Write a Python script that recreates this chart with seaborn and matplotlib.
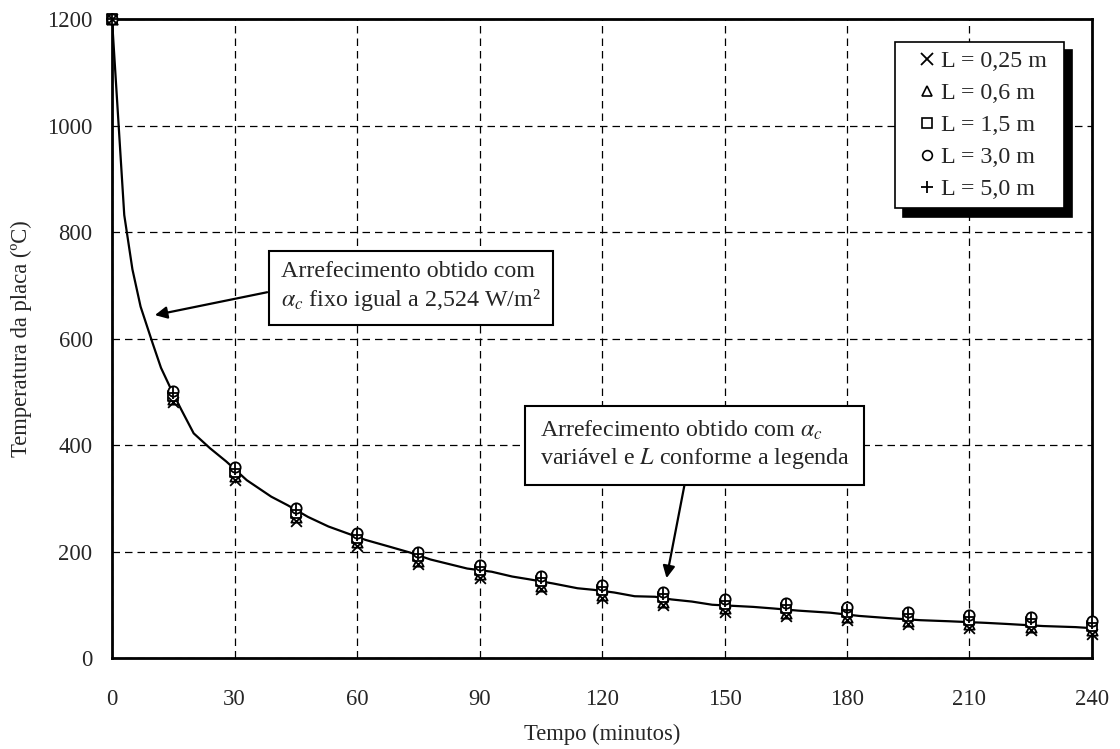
import numpy as np
import pandas as pd
import matplotlib
matplotlib.use("Agg")
import matplotlib.pyplot as plt
import seaborn as sns
from matplotlib.lines import Line2D

# ---- data ----
line_t = [0, 3, 5, 7, 10, 12, 15, 17, 20, 24, 28, 33, 39, 43, 48, 53, 62, 68, 73, 78,
          87, 93, 98, 102, 108, 114, 118, 123, 128, 133, 137, 142, 147, 152, 157, 162,
          168, 176, 183, 190, 198, 205, 214, 219, 228, 236, 240]
line_T = [1200, 832, 730, 660, 590, 545, 496, 466, 422, 394, 369, 334, 303, 287, 265, 247,
          222, 209, 198, 185, 168, 162, 153, 148, 140, 131, 128, 123, 116, 115, 110, 106,
          100, 98, 96, 93, 89, 85, 79, 75, 71, 69, 66, 64, 60, 58, 56]

t_pts = [0, 15, 30, 45, 60, 75, 90, 105, 120, 135, 150, 165, 180, 195, 210, 225, 240]
T_L025 = [1200, 480, 335, 258, 211, 176, 151, 130, 113, 100, 87, 79, 71, 63, 57, 53, 46]
T_L06 = [1200, 486, 341, 264, 217, 182, 157, 136, 119, 106, 93, 85, 77, 69, 63, 59, 52]
T_L15 = [1200, 493, 350, 273, 226, 191, 166, 145, 128, 115, 102, 94, 86, 78, 72, 68, 61]
T_L30 = [1200, 502, 359, 282, 235, 200, 175, 154, 137, 124, 111, 103, 95, 87, 81, 77, 70]
T_L50 = [1200, 498, 355, 278, 231, 196, 171, 150, 133, 120, 107, 99, 91, 83, 77, 73, 66]

series_names = ["L = 0,25 m", "L = 0,6 m", "L = 1,5 m", "L = 3,0 m", "L = 5,0 m"]
series_vals = [T_L025, T_L06, T_L15, T_L30, T_L50]
x_ticks = [0, 30, 60, 90, 120, 150, 180, 210, 240]
y_ticks = [0, 200, 400, 600, 800, 1000, 1200]

# ---- style ----
sns.set_theme(style="white")
plt.rcParams["font.family"] = ["Liberation Serif", "DejaVu Serif"]
plt.rcParams["mathtext.fontset"] = "stix"
FS = 16.3
FS_TXT = 17.3

fig = plt.figure(figsize=(11.2, 7.49), dpi=100)
ax = fig.add_axes([0.1, 0.1215, 0.875, 0.853])

line_df = pd.DataFrame({"t": line_t, "T": line_T})
sns.lineplot(data=line_df, x="t", y="T", ax=ax, color="black", lw=1.6,
             sort=False, zorder=3, legend=False)

pts_df = pd.DataFrame({
    "t": np.tile(t_pts, len(series_names)),
    "T": np.concatenate(series_vals),
    "serie": np.repeat(series_names, len(t_pts)),
})
markers = {"L = 0,25 m": "x", "L = 0,6 m": "^", "L = 1,5 m": "s",
           "L = 3,0 m": "o", "L = 5,0 m": "+"}
msize = {"L = 0,25 m": 60, "L = 0,6 m": 55, "L = 1,5 m": 45,
         "L = 3,0 m": 55, "L = 5,0 m": 75}
for name in series_names:
    sub = pts_df[pts_df["serie"] == name]
    filled = markers[name] in ("^", "s", "o")
    if filled:
        sns.scatterplot(data=sub, x="t", y="T", ax=ax, marker=markers[name],
                        s=msize[name], facecolor="white", edgecolor="black",
                        linewidth=1.3, zorder=4, legend=False, clip_on=False)
    else:
        sns.scatterplot(data=sub, x="t", y="T", ax=ax, marker=markers[name],
                        s=msize[name], color="black", linewidth=1.3, zorder=5,
                        legend=False, clip_on=False)

ax.set_xlim(0, 240)
ax.set_ylim(0, 1200)
ax.set_xticks(x_ticks)
ax.set_yticks(y_ticks)
ax.set_xticklabels([str(v) for v in x_ticks], fontsize=FS)
ax.set_yticklabels([str(v) for v in y_ticks], fontsize=FS)
ax.tick_params(axis="x", direction="out", length=7, width=1.2, color="black", pad=15)
ax.tick_params(axis="y", direction="out", length=7, width=1.2, color="black", pad=7)
ax.grid(True, color="black", linestyle=(0, (6, 4)), linewidth=0.9)
ax.set_axisbelow(True)
for sp in ax.spines.values():
    sp.set_visible(True)
    sp.set_color("black")
    sp.set_linewidth(2)

ax.set_xlabel("Tempo (minutos)", fontsize=FS, labelpad=10)
ax.set_ylabel("Temperatura da placa (ºC)", fontsize=FS, labelpad=11)

# legend
handles = []
for name in series_names:
    m = markers[name]
    if m in ("^", "s", "o"):
        handles.append(Line2D([], [], linestyle="none", marker=m, markersize=7,
                              markerfacecolor="white", markeredgecolor="black",
                              markeredgewidth=1.2))
    else:
        handles.append(Line2D([], [], linestyle="none", marker=m, markersize=8,
                              color="black", markeredgewidth=1.3))
leg = ax.legend(handles, series_names, loc="upper left",
                bbox_to_anchor=(0.799, 0.5, 0.1724, 0.464), mode="expand",
                fontsize=FS_TXT, frameon=True, fancybox=False, edgecolor="black",
                handlelength=1.95, handletextpad=-0.4, labelspacing=0.42,
                borderpad=0.35, borderaxespad=0.0,
                shadow={"ox": 6, "oy": -6, "facecolor": "black",
                        "edgecolor": "black", "alpha": 1})
leg.get_frame().set_linewidth(1.2)
leg.set_zorder(10)

# annotations
box1 = dict(boxstyle="square,pad=0.5", facecolor="white", edgecolor="black", linewidth=1.5)
box2 = dict(boxstyle="square,pad=0.6", facecolor="white", edgecolor="black", linewidth=1.5)
ax.text(41.5, 697, "Arrefecimento obtido com\n$\\alpha_c$ fixo igual a 2,524 W/m²",
        fontsize=FS_TXT, ha="left", va="center", bbox=box1, zorder=8, linespacing=1.28)
ax.annotate("", xy=(10.5, 644), xytext=(38, 687),
            arrowprops=dict(arrowstyle="-|>", color="black", lw=1.6, mutation_scale=18,
                            shrinkA=0, shrinkB=0), zorder=7)
ax.text(104.7, 400, "Arrefecimento obtido com $\\alpha_c$\nvariável e $L$ conforme a legenda",
        fontsize=FS_TXT, ha="left", va="center", bbox=box2, zorder=8, linespacing=1.2)
ax.annotate("", xy=(135.8, 150), xytext=(140.3, 329),
            arrowprops=dict(arrowstyle="-|>", color="black", lw=1.6, mutation_scale=18,
                            shrinkA=0, shrinkB=0), zorder=7)

fig.savefig("out.png", dpi=100)
